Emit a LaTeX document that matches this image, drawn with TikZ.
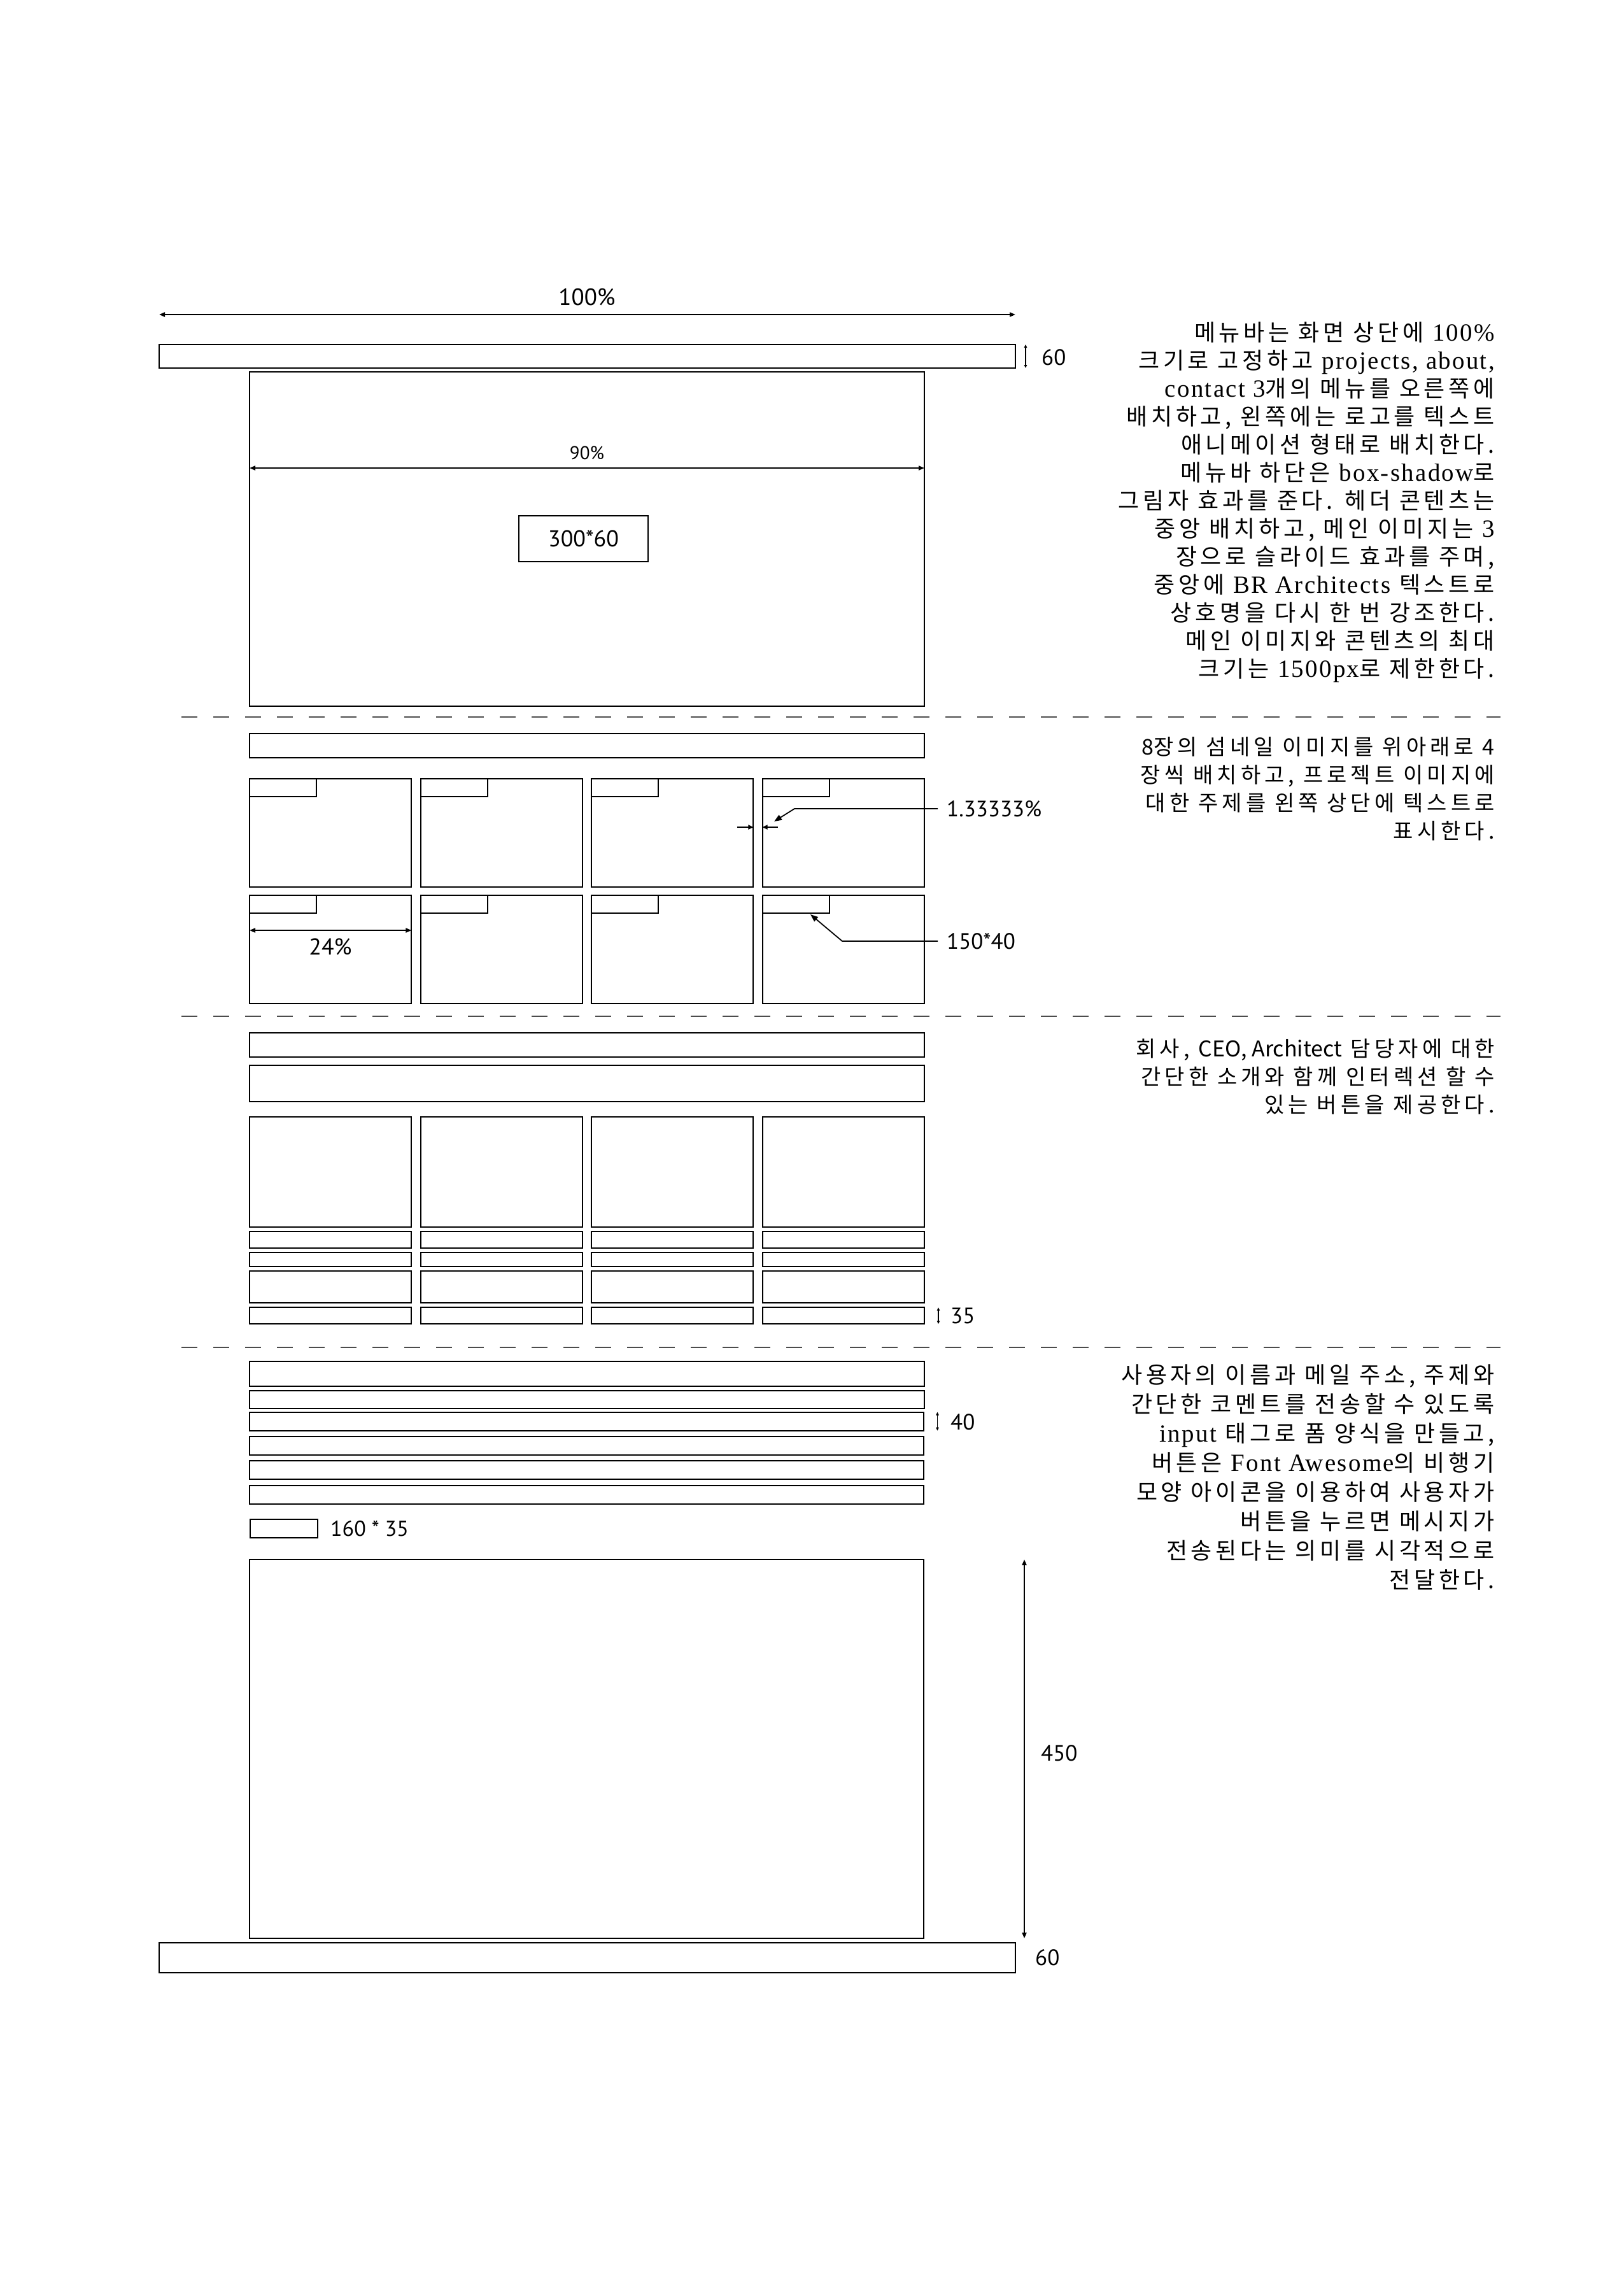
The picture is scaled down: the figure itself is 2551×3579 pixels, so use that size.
\documentclass[tikz,border=0pt]{standalone}
\usepackage{fontspec}
\setmainfont{PT Sans}
\newfontfamily\krfont[LetterSpace=18]{Noto Sans CJK KR}
\newfontfamily\krlatin{Noto Sans CJK KR}
\newfontfamily\krwide[LetterSpace=16]{Noto Sans CJK KR}
\newfontfamily\latserif[LetterSpace=6,Scale=1.08]{Liberation Serif}
\usetikzlibrary{arrows.meta}

% one wireframe rectangle: name, left, top, width, height
\newcommand\frm[5]{\node[frame, minimum width=#4pt, minimum height=#5pt] (#1) at (#2,#3) {};}

\begin{document}
\begin{tikzpicture}[x=1pt,y=-1pt,
  frame/.style={draw=black, line width=2pt, inner sep=0pt, outer sep=0pt, anchor=north west},
  sep/.style={draw=black!70, line width=2pt, dash pattern=on 25pt off 25pt},
  dim/.style={line width=2pt, {Triangle[length=9pt,width=7pt]}-{Triangle[length=9pt,width=7pt]}},
  tinydim/.style={line width=1.6pt, {Triangle[length=5pt,width=4.5pt]}-{Triangle[length=5pt,width=4.5pt]}},
  gaparrow/.style={line width=1.8pt, -{Triangle[length=8pt,width=7pt]}},
  lead/.style={line width=1.8pt, -{Triangle[length=12pt,width=9pt]}},
  lbl/.style={inner sep=0pt, font=\fontsize{35}{40}\selectfont},
  note/.style={inner sep=0pt, anchor=north east, align=right, font=\krfont\fontsize{34}{44}\selectfont},
  longnote/.style={note, font=\krwide\fontsize{36}{44}\selectfont},
]
\fill[white] (0,0) rectangle (2551,3579);
\useasboundingbox (0,0) rectangle (2551,3579);

% ---------------- header: menu bar and main visual ----------------
\frm{topbar}{250}{541}{1345}{37}
\coordinate (wL) at (250,494);
\coordinate (wR) at (1595,494);
\draw[dim] (wL) -- (wR);
\node[lbl, font=\fontsize{37}{42}\selectfont] (w100) at (922,467) {100\%};
\draw[tinydim] ([xshift=16pt]topbar.north east) -- ([xshift=16pt]topbar.south east);
\node[lbl, anchor=west] (h60) at (1636,561) {60};

\frm{header}{392}{584}{1060}{525}
\coordinate (h90L) at (392,735);
\coordinate (h90R) at (1452,735);
\draw[dim] (h90L) -- (h90R);
\node[lbl, font=\fontsize{29}{34}\selectfont] (w90) at (922,711) {90\%};
\node[frame, minimum width=203pt, minimum height=72pt, font=\fontsize{36}{40}\selectfont] (logo) at (815,810) {300*60};

\coordinate (s1L) at (285,1126);
\coordinate (s1R) at (2357,1126);
\draw[sep] (s1L) -- (s1R);

% ---------------- projects: 2 x 4 thumbnails ----------------
\frm{projbar}{392}{1152}{1060}{38}
\foreach \c in {1,...,4}{
  \pgfmathsetmacro\xx{392+(\c-1)*268.53}
  \frm{t1\c}{\xx}{1223}{254.4}{169.5}
  \frm{l1\c}{\xx}{1223}{105}{28}
  \frm{t2\c}{\xx}{1406}{254.4}{170}
  \frm{l2\c}{\xx}{1406}{105}{28}
}
\coordinate (gy) at (0,1299);
\draw[gaparrow] ([xshift=-25pt]t13.east |- gy) -- (t13.east |- gy);
\draw[gaparrow] ([xshift=24pt]t14.west |- gy) -- (t14.west |- gy);
\node[lbl, anchor=west] (gapnote) at (1487,1270) {1.33333\%};
\coordinate (gaptip) at (1216,1290);
\draw[lead] ([xshift=-14pt]gapnote.west) -- ++(-225,0) -- (gaptip);
\node[lbl, anchor=west] (sizenote) at (1487,1478) {150*40};
\coordinate (sizetip) at (1273,1436);
\draw[lead] ([xshift=-14pt]sizenote.west) -- ++(-150,0) -- (sizetip);
\coordinate (y24) at (0,1461);
\draw[dim] (t21.west |- y24) -- (t21.east |- y24);
\node[lbl, font=\fontsize{36}{40}\selectfont] (w24) at (519,1487) {24\%};

\coordinate (s2L) at (285,1596);
\coordinate (s2R) at (2357,1596);
\draw[sep] (s2L) -- (s2R);

% ---------------- about: team cards ----------------
\frm{abar1}{392}{1622}{1060}{38}
\frm{abar2}{392}{1673}{1060}{57}
\foreach \c in {1,...,4}{
  \pgfmathsetmacro\xx{392+(\c-1)*268.53}
  \frm{card\c}{\xx}{1754}{254.4}{172.5}
  \frm{ra\c}{\xx}{1934.3}{254.4}{25.7}
  \frm{rb\c}{\xx}{1967.3}{254.4}{21.7}
  \frm{rc\c}{\xx}{1996}{254.4}{49.7}
  \frm{rd\c}{\xx}{2053.3}{254.4}{26}
}
\draw[tinydim] ([xshift=22pt]rd4.north east) -- ([xshift=22pt]rd4.south east);
\node[lbl, anchor=west] (h35) at (1493,2066) {35};

\coordinate (s3L) at (285,2116);
\coordinate (s3R) at (2357,2116);
\draw[sep] (s3L) -- (s3R);

% ---------------- contact: form, map and footer ----------------
\frm{f1}{392}{2138.3}{1060}{38.4}
\frm{f2}{392}{2184.3}{1060}{28}
\frm{f3}{392}{2217.5}{1058.5}{29.2}
\frm{f4}{392}{2255.7}{1058.5}{29.3}
\frm{f5}{392}{2294.3}{1058.5}{29}
\frm{f6}{392}{2332.7}{1058.5}{29.6}
\draw[tinydim] ([xshift=22pt]f3.north east) -- ([xshift=22pt]f3.south east);
\node[lbl, anchor=west] (h40) at (1493,2233) {40};
\frm{btn}{393}{2386}{106}{29}
\node[lbl, anchor=west, font=\fontsize{34}{40}\selectfont] (btnsize) at (519,2401) {160 * 35};
\frm{map}{392}{2449}{1059}{595}
\draw[dim] ([xshift=158pt]map.north east) -- ([xshift=158pt]map.south east);
\node[lbl, anchor=west] (h450) at (1635,2753) {450};
\frm{footer}{250}{3051}{1345}{47}
\node[lbl, anchor=west] (f60) at (1626,3074) {60};

% ---------------- descriptions ----------------
\node[longnote] (d1) at (2348,506) {%
메뉴바는 화면 상단에 {\latserif 100\%}\\
크기로 고정하고 {\latserif projects, about,}\\
{\latserif contact 3}개의 메뉴를 오른쪽에\\
배치하고, 왼쪽에는 로고를 텍스트\\
애니메이션 형태로 배치한다.\\
메뉴바 하단은 {\latserif box-shadow}로\\
그림자 효과를 준다. 헤더 콘텐츠는\\
중앙 배치하고, 메인 이미지는 {\latserif 3}\\
장으로 슬라이드 효과를 주며,\\
중앙에 {\latserif BR Architects} 텍스트로\\
상호명을 다시 한 번 강조한다.\\
메인 이미지와 콘텐츠의 최대\\
크기는 {\latserif 1500px}로 제한한다.};

\node[note] (d2) at (2348,1157) {%
{\krlatin 8}장의 섬네일 이미지를 위아래로 {\krlatin 4}\\
장씩 배치하고, 프로젝트 이미지에\\
대한 주제를 왼쪽 상단에 텍스트로\\
표시한다.};

\node[note] (d3) at (2348,1631) {%
회사, {\krlatin CEO, Architect} 담당자에 대한\\
간단한 소개와 함께 인터렉션 할 수\\
있는 버튼을 제공한다.};

\node[longnote, font=\krwide\fontsize{36}{46}\selectfont] (d4) at (2348,2142) {%
사용자의 이름과 메일 주소, 주제와\\
간단한 코멘트를 전송할 수 있도록\\
{\latserif input} 태그로 폼 양식을 만들고,\\
버튼은 {\latserif Font Awesome}의 비행기\\
모양 아이콘을 이용하여 사용자가\\
버튼을 누르면 메시지가\\
전송된다는 의미를 시각적으로\\
전달한다.};
\end{tikzpicture}
\end{document}
